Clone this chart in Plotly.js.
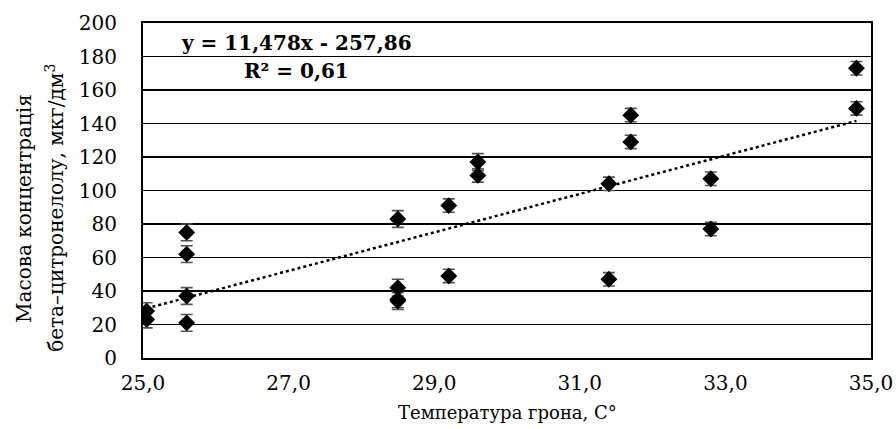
<!DOCTYPE html>
<html><head><meta charset="utf-8">
<script src="https://cdn.plot.ly/plotly-3.0.1.min.js"></script>
<style>body{margin:0;background:#fff}#c{width:896px;height:429px}</style>
</head><body><div id="c"></div>
<script>
const temps = [25.05, 25.05, 25.6, 25.6, 25.6, 25.6, 28.5, 28.5, 28.5, 28.5, 29.2, 29.2, 29.6, 29.6, 31.4, 31.4, 31.7, 31.7, 32.8, 32.8, 34.8, 34.8];
const conc  = [28, 23, 75, 62, 37, 21, 83, 42, 35, 34, 91, 49, 117, 109, 104, 47, 145, 129, 107, 77, 173, 149];
const errs  = [5, 5, 5, 5, 5, 5, 5, 5, 5, 5, 4, 4, 5, 4, 4, 4, 4, 4, 4, 4, 4, 4];
const slope = 11.478, intercept = -257.86;
const trendX = [25.05, 34.8];
const trendY = trendX.map(x => slope * x + intercept);
const xTicks = [25, 27, 29, 31, 33, 35];
const yTicks = [0, 20, 40, 60, 80, 100, 120, 140, 160, 180, 200];
const xTitle = 'Температура грона, С°';
const yTitle1 = 'Масова концентрація';
const yTitle2 = 'бета–цитронелолу, мкг/дм<sup>3</sup>';
const eqText = '<b>y = 11,478x - 257,86</b>';
const r2Text = '<b>R² = 0,61</b>';

const F = 'DejaVu Serif, Liberation Serif, serif';
const data = [
  {x: trendX, y: trendY, mode: 'lines', type: 'scatter',
   line: {color: '#000', width: 2.5, dash: 'dot'}, hoverinfo: 'skip'},
  {x: temps, y: conc, mode: 'markers', type: 'scatter',
   marker: {symbol: 'diamond', size: 13, color: '#000'},
   error_y: {type: 'data', array: errs, visible: true, color: '#555', thickness: 1.6, width: 6}}
];
const layout = {
  width: 896, height: 429,
  margin: {l: 143, r: 25, t: 23, b: 71},
  paper_bgcolor: '#fff', plot_bgcolor: '#fff',
  showlegend: false,
  separators: ', ',
  font: {family: F, size: 20, color: '#000'},
  xaxis: {range: [25, 35], tickvals: xTicks, tickformat: '.1f',
    showgrid: false, zeroline: false, showline: true, linecolor: '#000', linewidth: 2, mirror: true,
    ticks: 'outside', ticklen: 6, tickcolor: 'rgba(0,0,0,0)',
    tickfont: {family: F, size: 20}},
  yaxis: {range: [0, 200], tickvals: yTicks,
    showgrid: true, gridcolor: '#000', gridwidth: 1.8, zeroline: false,
    showline: true, linecolor: '#000', linewidth: 2, mirror: true,
    ticks: 'outside', ticklen: 20, tickcolor: 'rgba(0,0,0,0)',
    tickfont: {family: F, size: 20}},
  annotations: [
    {xref: 'paper', yref: 'paper', x: 0.2115, y: 0.940, xanchor: 'center', yanchor: 'middle', showarrow: false,
     text: eqText, font: {family: F, size: 20}},
    {xref: 'paper', yref: 'paper', x: 0.2115, y: 0.858, xanchor: 'center', yanchor: 'middle', showarrow: false,
     text: r2Text, font: {family: F, size: 20}},
    {xref: 'paper', yref: 'paper', x: 0.5, y: -0.164, xanchor: 'center', yanchor: 'middle', showarrow: false,
     text: xTitle, font: {family: F, size: 18}},
    {xref: 'paper', yref: 'paper', x: -0.1635, y: 0.448, xanchor: 'center', yanchor: 'middle', showarrow: false,
     textangle: -90, text: yTitle1, font: {family: F, size: 20}},
    {xref: 'paper', yref: 'paper', x: -0.121, y: 0.448, xanchor: 'center', yanchor: 'middle', showarrow: false,
     textangle: -90, text: yTitle2, font: {family: F, size: 20}}
  ]
};
Plotly.newPlot('c', data, layout, {displayModeBar: false, staticPlot: true});
</script></body></html>
